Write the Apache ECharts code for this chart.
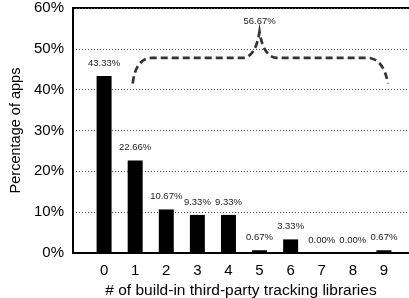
<!DOCTYPE html>
<html>
<head>
<meta charset="utf-8">
<script src="https://cdn.jsdelivr.net/npm/echarts@6/dist/echarts.min.js"></script>
<style>
html,body{margin:0;padding:0;background:#fff;}
#c{width:409px;height:298px;}
</style>
</head>
<body>
<div id="c"></div>
<script>
// ---- data ----
const categories = ['0','1','2','3','4','5','6','7','8','9'];
const shares = [43.33, 22.66, 10.67, 9.33, 9.33, 0.67, 3.33, 0.00, 0.00, 0.67];
const yTicks = [0, 10, 20, 30, 40, 50, 60];
const braceFrom = 1, braceTo = 9;
const braceTotal = 56.67;

const FONT = 'Liberation Sans, Arial, Helvetica, sans-serif';
const barData = categories.map((c, i) => [i, shares[i]]);

const chart = echarts.init(document.getElementById('c'), null, {renderer: 'canvas'});
chart.setOption({
  animation: false,
  backgroundColor: '#fff',
  grid: {left: 73, top: 8, width: 342, bottom: 45, outerBoundsMode: 'none', containLabel: false,
         show: true, borderColor: '#000', borderWidth: 2, backgroundColor: 'transparent'},
  xAxis: {
    type: 'value', min: -1, max: 10, interval: 1,
    name: '# of build-in third-party tracking libraries',
    nameLocation: 'middle', nameGap: 24,
    nameTextStyle: {fontFamily: FONT, fontSize: 15.5, color: '#000', padding: [0, 6, 0, 0]},
    axisLine: {show: true, onZero: false, lineStyle: {color: '#000', width: 2}},
    axisTick: {show: false},
    splitLine: {show: false},
    axisLabel: {
      fontFamily: FONT, fontSize: 15, color: '#000', margin: 10,
      formatter: v => (Number.isInteger(v) && v >= 0 && v < categories.length) ? categories[v] : ''
    }
  },
  yAxis: {
    type: 'value', min: yTicks[0], max: yTicks[yTicks.length - 1], interval: 10,
    name: 'Percentage of apps', nameLocation: 'middle', nameGap: 49,
    nameTextStyle: {fontFamily: FONT, fontSize: 14.5, color: '#000'},
    axisLine: {show: true, onZero: false, lineStyle: {color: '#000', width: 2}},
    axisTick: {show: false},
    axisLabel: {fontFamily: FONT, fontSize: 15, color: '#000', margin: 9, formatter: '{value}%'},
    splitLine: {show: true, lineStyle: {color: '#555', width: 1, type: [1, 2]}}
  },
  series: [
    {
      type: 'bar',
      data: barData,
      barWidth: 15,
      itemStyle: {color: '#000'},
      label: {
        show: true, position: 'top', distance: 8,
        fontFamily: FONT, fontSize: 9.5, color: '#222',
        formatter: p => shares[p.dataIndex].toFixed(2) + '%'
      }
    },
    {
      type: 'custom',
      data: [[braceFrom, braceTo, braceTotal]],
      silent: true,
      z: 5,
      renderItem: function (params, api) {
        const from = api.value(0), to = api.value(1), total = api.value(2);
        const mid = (from + to) / 2;
        const base = 41.5, flat = 47.8, peak = 54.2;
        const p = (x, y) => api.coord([x, y]).map(v => v.toFixed(1)).join(' ');
        const d = 'M' + p(from - 0.08, base) +
          ' Q' + p(from + 0.02, flat) + ' ' + p(from + 0.55, flat) +
          ' L' + p(mid - 0.55, flat) +
          ' Q' + p(mid - 0.13, flat) + ' ' + p(mid, peak) +
          ' Q' + p(mid + 0.13, flat) + ' ' + p(mid + 0.57, flat) +
          ' L' + p(to - 0.55, flat) +
          ' Q' + p(to - 0.02, flat) + ' ' + p(to + 0.13, base);
        const lp = api.coord([mid, total]);
        return {
          type: 'group',
          children: [
            {type: 'path', shape: {pathData: d},
             style: {fill: null, stroke: '#333', lineWidth: 2.7, lineDash: [7, 4]}},
            {type: 'text', x: lp[0], y: lp[1],
             style: {text: total.toFixed(2) + '%', align: 'center', verticalAlign: 'middle',
                     fontFamily: FONT, fontSize: 9.5, fill: '#222'}}
          ]
        };
      }
    }
  ]
});
</script>
</body>
</html>
